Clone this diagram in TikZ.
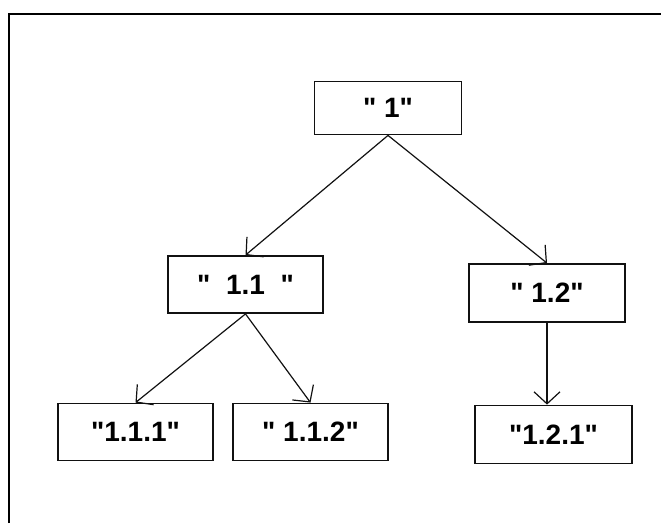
\documentclass[tikz,border=0pt]{standalone}
\usepackage{fontspec}
\setmainfont{Liberation Sans}[Ligatures=TeXOff]
\usepackage{xcolor}
\definecolor{treeLine}{HTML}{111111}
\usetikzlibrary{arrows.meta}
\newcommand{\dq}{\char34\relax}
\tikzset{
  treeBox/.style={rectangle, draw=treeLine, line width=1.8pt, fill=white, inner sep=0pt,
    minimum width=155pt, minimum height=57pt, font=\fontsize{28}{30}\selectfont\bfseries},
  treeEdge/.style={treeLine, line width=1.2pt, -{Straight Barb[length=12pt, width=26pt]}}
}

\begin{document}
\begin{tikzpicture}[x=1pt, y=-1pt]
  \useasboundingbox (0,0) rectangle (661,523);
  \filldraw[fill=white, draw=none] (0,0) rectangle (661,523);
  \draw[line width=2.5pt] (9,523) -- (9,14) -- (661,14);
  \node[treeBox, minimum width=147pt, minimum height=53pt] (A) at (388,108) {\dq\ 1\dq};
  \node[treeBox] (B) at (245.5,284.5) {\dq~~1.1~~\dq};
  \node[treeBox, minimum width=156pt, minimum height=58pt] (C) at (547,293) {\dq\ 1.2\dq};
  \node[treeBox] (D) at (135.5,432) {\dq1.1.1\dq};
  \node[treeBox] (E) at (310.5,432) {\dq\ 1.1.2\dq};
  \node[treeBox, minimum width=157pt, minimum height=58pt] (F) at (553.5,434.5) {\dq1.2.1\dq};
  \draw[treeEdge] (A.south) -- (B.north);
  \draw[treeEdge] (A.south) -- (C.north);
  \draw[treeEdge] (B.south) -- (D.north);
  \draw[treeEdge] (B.south) -- (E.north);
  \draw[treeEdge] (C.south) -- (C.south |- F.north);
\end{tikzpicture}
\end{document}
